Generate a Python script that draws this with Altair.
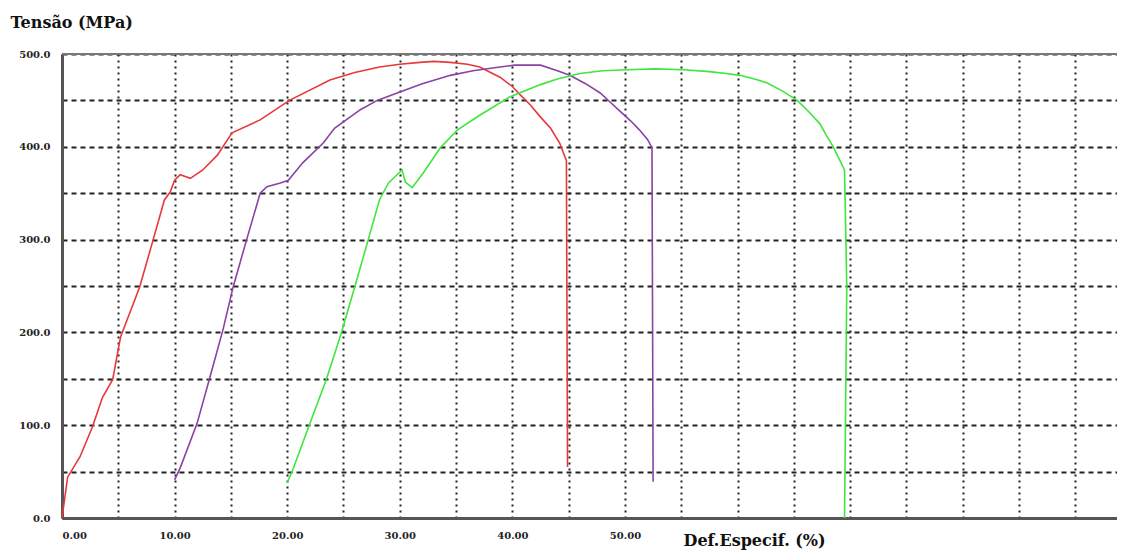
import altair as alt
import pandas as pd

# Curve data (strain %, stress MPa)
red_x = [0.0, 0.5, 1.6, 2.7, 3.6, 4.5, 5.2, 6.9, 8.1, 9.1, 9.6, 10.0, 10.5, 11.4, 12.5, 13.8, 15.1,
         17.6, 20.2, 23.8, 26.0, 28.2, 30.0, 31.8, 33.0, 34.5, 36.0, 37.1, 38.9, 40.0, 40.7, 41.6,
         42.5, 43.4, 44.2, 44.8, 44.9]
red_y = [0, 44, 66, 98, 130, 149, 195, 249, 300, 343, 351, 364, 370, 366, 375, 391, 415,
         429, 450, 472, 480, 486, 489, 491, 492, 491, 489, 486, 475, 465, 456, 445,
         432, 420, 404, 385, 55]

purple_x = [10.0, 10.5, 12.0, 13.1, 14.3, 15.2, 16.4, 17.6, 18.2, 19.4, 20.1, 21.4, 23.2, 24.2,
            26.5, 28.0, 30.0, 32.0, 34.5, 36.5, 38.9, 40.2, 41.6, 42.5, 44.0, 45.1, 46.5, 47.8,
            48.7, 49.6, 50.5, 51.3, 52.0, 52.4, 52.5]
purple_y = [41, 54, 102, 150, 203, 249, 300, 350, 357, 361, 364, 383, 404, 420,
            440, 450, 459, 468, 477, 482, 486, 488, 488, 488, 482, 477, 468, 458,
            448, 438, 428, 418, 408, 399, 39]

green_x = [20.0, 20.5, 21.9, 23.5, 24.8, 26.0, 27.2, 28.2, 29.0, 29.6, 30.2, 30.5, 31.1, 32.1,
           33.6, 35.1, 37.1, 39.8, 42.5, 44.0, 46.0, 48.0, 50.2, 52.7, 55.2, 57.5, 59.0, 60.2,
           61.5, 62.6, 64.0, 65.3, 66.3, 67.3, 67.9, 68.5, 69.5, 69.7, 69.5]
green_y = [38, 52, 98, 150, 199, 249, 300, 343, 361, 368, 375, 362, 356, 372,
           399, 418, 434, 454, 467, 473, 479, 482, 483, 484, 483, 481, 479, 477,
           473, 469, 460, 450, 438, 425, 412, 400, 375, 249, 0]

series_names = ["A", "B", "C"]
series_colors = ["#e8383a", "#8a42a4", "#3ee63e"]

rows = []
for name, xs, ys in zip(series_names, [red_x, purple_x, green_x], [red_y, purple_y, green_y]):
    for i, (xv, yv) in enumerate(zip(xs, ys)):
        rows.append({"s": name, "i": i, "x": xv, "y": yv})
df = pd.DataFrame(rows)

x_grid = [v * 5 for v in range(0, 19)]
y_grid = [v * 50 for v in range(0, 11)]

FONT = "DejaVu Serif"

lines = alt.Chart(df).mark_line(strokeWidth=1.6, interpolate="linear").encode(
    x=alt.X("x:Q", scale=alt.Scale(domain=[0, 93.7], nice=False, zero=False),
            axis=alt.Axis(values=x_grid,
                          labelExpr="(datum.value % 10 == 0 && datum.value <= 50) ? format(datum.value, '.2f') : ''",
                          title="Def.Especif. (%)",
                          titleX=621, titleY=22, titleAlign="left", titleBaseline="middle",
                          titleFont=FONT, titleFontSize=16, titleFontWeight="bold", titleColor="#111",
                          labelFont=FONT, labelFontSize=10, labelFontWeight="bold", labelColor="#222",
                          labelPadding=12, ticks=False, labelOverlap=False,
                          grid=True, gridColor="#222", gridDash=[2, 4], gridWidth=2,
                          domainColor="#555", domainWidth=3)),
    y=alt.Y("y:Q", scale=alt.Scale(domain=[0, 500], nice=False),
            axis=alt.Axis(values=y_grid,
                          labelExpr="(datum.value % 100 == 0) ? format(datum.value, '.1f') : ''",
                          title="Tensão (MPa)", titleAngle=0,
                          titleX=-52, titleY=-32, titleAlign="left", titleBaseline="middle",
                          titleFont=FONT, titleFontSize=16, titleFontWeight="bold", titleColor="#111",
                          labelFont=FONT, labelFontSize=10, labelFontWeight="bold", labelColor="#222",
                          labelPadding=12, ticks=False, labelOverlap=False,
                          grid=True, gridColor="#222", gridDash=[5, 4], gridWidth=2,
                          domainColor="#555", domainWidth=3)),
    color=alt.Color("s:N", scale=alt.Scale(domain=series_names, range=series_colors), legend=None),
    order="i:Q",
)

top = alt.Chart(df).mark_rule(color="#777", strokeWidth=2).encode(y=alt.datum(500))

chart = alt.layer(top, lines).properties(
    width=1055, height=464,
    autosize=alt.AutoSizeParams(type="none"),
    padding={"left": 54, "top": 46, "right": 0, "bottom": 33},
).configure_view(stroke=None)

chart.save("out.html", embed_options={"renderer": "svg", "actions": False})
